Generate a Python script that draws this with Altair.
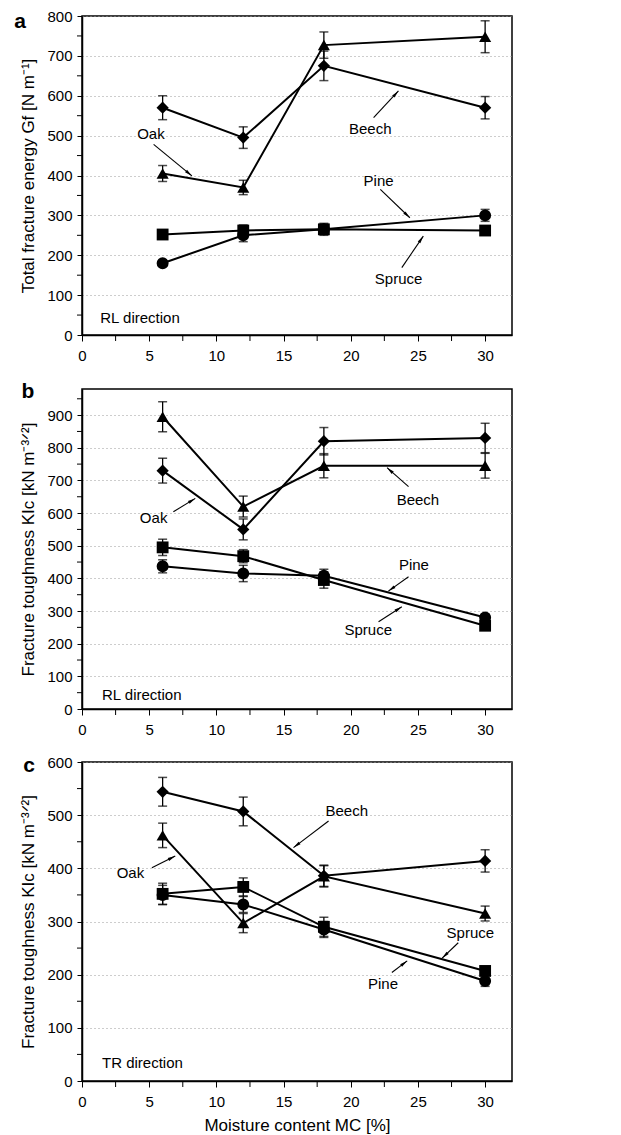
import math
import altair as alt
import pandas as pd

FONT = "Liberation Sans"
X = [6, 12, 18, 30]
SPECIES = ["Beech", "Oak", "Pine", "Spruce"]

# ---- panel a: total fracture energy, RL direction ----
A_VALUES = {"Beech": [570, 495, 675, 570], "Oak": [405, 370, 727, 748],
            "Pine": [180, 250, 265, 300], "Spruce": [252, 262, 265, 262]}
A_ERRORS = {"Beech": [30, 27, 37, 28], "Oak": [20, 18, 33, 40],
            "Pine": [6, 16, 15, 15], "Spruce": [10, 14, 12, 10]}
A_MARKERS = {"Beech": "diamond", "Oak": "triangle-up", "Pine": "circle", "Spruce": "square"}
A_YTICKS = list(range(0, 801, 100))
A_LABELS = ["Oak", "Beech", "Pine", "Spruce"]
A_LABEL_X = [5.13, 21.45, 22.07, 23.56]
A_LABEL_Y = [503, 516, 386, 140]
A_ARROW_X1 = [5.33, 21.7, 22.2, 23.8]
A_ARROW_Y1 = [478, 545, 365, 169]
A_ARROW_X2 = [8.18, 23.55, 24.4, 25.4]
A_ARROW_Y2 = [399, 612, 294, 248]

# ---- panel b: fracture toughness, RL direction ----
B_VALUES = {"Beech": [895, 620, 745, 745], "Oak": [730, 550, 820, 830],
            "Pine": [437, 415, 408, 280], "Spruce": [495, 468, 395, 255]}
B_ERRORS = {"Beech": [46, 32, 37, 38], "Oak": [38, 32, 42, 45],
            "Pine": [20, 25, 20, 10], "Spruce": [25, 20, 25, 12]}
B_MARKERS = {"Beech": "triangle-up", "Oak": "diamond", "Pine": "circle", "Spruce": "square"}
B_YTICKS = list(range(0, 901, 100))
B_LABELS = ["Oak", "Beech", "Pine", "Spruce"]
B_LABEL_X = [5.33, 25.0, 24.7, 21.3]
B_LABEL_Y = [584, 640, 441, 242]
B_ARROW_X1 = [6.8, 24.3, 24.3, 22.07]
B_ARROW_Y1 = [604, 681, 405, 267]
B_ARROW_X2 = [8.43, 22.7, 22.8, 23.8]
B_ARROW_Y2 = [645, 739, 361, 313]

# ---- panel c: fracture toughness, TR direction ----
C_VALUES = {"Beech": [544, 507, 386, 414], "Oak": [462, 297, 385, 315],
            "Pine": [350, 332, 285, 188], "Spruce": [352, 365, 290, 207]}
C_ERRORS = {"Beech": [27, 27, 20, 21], "Oak": [23, 18, 20, 14],
            "Pine": [18, 15, 15, 10], "Spruce": [20, 17, 18, 8]}
C_MARKERS = {"Beech": "diamond", "Oak": "triangle-up", "Pine": "circle", "Spruce": "square"}
C_YTICKS = list(range(0, 601, 100))
C_LABELS = ["Beech", "Oak", "Spruce", "Pine"]
C_LABEL_X = [19.7, 3.6, 28.9, 22.4]
C_LABEL_Y = [508, 392, 279, 182]
C_ARROW_X1 = [18.35, 5.2, 28.0, 23.06]
C_ARROW_Y1 = [489, 401, 260, 204]
C_ARROW_X2 = [15.74, 6.94, 26.8, 24.2]
C_ARROW_Y2 = [439, 423, 231, 226]

X_TICKS = [0, 5, 10, 15, 20, 25, 30]
X_MINOR = [2.5, 7.5, 12.5, 17.5, 22.5, 27.5]
XMAX = 32
W = 430

SHAPES = ["diamond", "triangle-up", "circle", "square"]
SHAPE_SIZES = [150, 140, 85, 70]
ARROW_PATH = "M0,0L0.5,2.4L-0.5,2.4Z"


def panel(values, errors, markers, ymax, yticks, height, ytitle,
          labels, lx, ly, ax1, ay1, ax2, ay2, letter, letter_dx, letter_dy,
          direction, dir_x, dir_y, xtitle):
    rows = []
    for sp in SPECIES:
        for xv, yv, ev in zip(X, values[sp], errors[sp]):
            rows.append({"species": sp, "x": xv, "y": yv, "lo": yv - ev,
                         "hi": yv + ev, "marker": markers[sp]})
    df = pd.DataFrame(rows)

    xs = alt.Scale(domain=[0, XMAX], nice=False, zero=False)
    ys = alt.Scale(domain=[0, ymax], nice=False, zero=False)

    x_axis = alt.Axis(values=X_TICKS, grid=False, tickSize=6, labelPadding=7,
                      labelFlush=False, labelOverlap=False,
                      title=xtitle if xtitle else None, titlePadding=8)
    y_axis = alt.Axis(values=yticks, grid=True, gridDash=[1, 3], gridColor="#9a9a9a",
                      gridWidth=1, tickSize=5, labelPadding=5, labelFlush=False,
                      labelOverlap=False, title=ytitle, titlePadding=9)

    def X_(f):
        return alt.X(f, scale=xs, axis=x_axis)

    def Y_(f):
        return alt.Y(f, scale=ys, axis=y_axis)

    base = alt.Chart(df)
    lines = base.mark_line(color="black", strokeWidth=2).encode(
        x=X_("x:Q"), y=Y_("y:Q"), detail="species:N", order="x:Q")
    bars = base.mark_rule(color="black", strokeWidth=1.3).encode(
        x=X_("x:Q"), y=Y_("lo:Q"), y2="hi:Q")
    cap_lo = base.mark_tick(orient="horizontal", color="black", size=9,
                            thickness=1.5).encode(x=X_("x:Q"), y=Y_("lo:Q"))
    cap_hi = base.mark_tick(orient="horizontal", color="black", size=9,
                            thickness=1.5).encode(x=X_("x:Q"), y=Y_("hi:Q"))
    pts = base.mark_point(filled=True, color="black", opacity=1).encode(
        x=X_("x:Q"), y=Y_("y:Q"),
        shape=alt.Shape("marker:N", scale=None, legend=None),
        size=alt.Size("marker:N", scale=alt.Scale(domain=SHAPES, range=SHAPE_SIZES),
                      legend=None))

    # minor ticks
    yminor = [t + 50 for t in yticks if t + 50 <= ymax]
    ymin_df = pd.DataFrame({"v": yminor})
    ymin_rules = alt.Chart(ymin_df).mark_rule(color="black", strokeWidth=1).encode(
        y=Y_("v:Q"), x=alt.value(-5), x2=alt.value(0))
    xmin_df = pd.DataFrame({"v": X_MINOR})
    xmin_rules = alt.Chart(xmin_df).mark_rule(color="black", strokeWidth=1).encode(
        x=X_("v:Q"), y=alt.value(height), y2=alt.value(height + 6))

    # annotations
    sx = W / XMAX
    sy = height / ymax
    angles = []
    for x1, y1, x2, y2 in zip(ax1, ay1, ax2, ay2):
        dxp = (x2 - x1) * sx
        dyp = -(y2 - y1) * sy
        ang = math.degrees(math.atan2(dxp, -dyp)) % 360
        angles.append(ang)
    ann = pd.DataFrame({"label": labels, "lx": lx, "ly": ly, "x1": ax1, "y1": ay1,
                        "x2": ax2, "y2": ay2, "angle": angles})
    abase = alt.Chart(ann)
    texts = abase.mark_text(font=FONT, fontSize=15, color="black").encode(
        x=X_("lx:Q"), y=Y_("ly:Q"), text="label:N")
    arrows = abase.mark_rule(color="black", strokeWidth=1.1).encode(
        x=X_("x1:Q"), y=Y_("y1:Q"), x2="x2:Q", y2="y2:Q")
    heads = abase.mark_point(shape=ARROW_PATH, filled=True, color="black",
                             opacity=1, size=40).encode(
        x=X_("x2:Q"), y=Y_("y2:Q"), angle=alt.Angle("angle:Q", scale=None))

    dir_df = pd.DataFrame({"t": [direction], "x": [dir_x], "y": [dir_y]})
    dir_text = alt.Chart(dir_df).mark_text(font=FONT, fontSize=15, align="left",
                                           color="black").encode(
        x=X_("x:Q"), y=Y_("y:Q"), text="t:N")

    let_df = pd.DataFrame({"t": [letter]})
    let_text = alt.Chart(let_df).mark_text(font=FONT, fontSize=21, fontWeight="bold",
                                           color="black").encode(
        x=alt.value(letter_dx), y=alt.value(letter_dy), text="t:N")

    return alt.layer(lines, bars, cap_lo, cap_hi, pts, ymin_rules, xmin_rules,
                     arrows, heads, texts, dir_text, let_text).properties(
        width=W, height=height)


pa = panel(A_VALUES, A_ERRORS, A_MARKERS, 800, A_YTICKS, 319,
           "Total fracture energy Gf [N m⁻¹]",
           A_LABELS, A_LABEL_X, A_LABEL_Y, A_ARROW_X1, A_ARROW_Y1, A_ARROW_X2, A_ARROW_Y2,
           "a", -62, 6, "RL direction", 1.36, 43, None)
pb = panel(B_VALUES, B_ERRORS, B_MARKERS, 980, B_YTICKS, 320,
           "Fracture toughness KIc [kN m⁻³ᐟ²]",
           B_LABELS, B_LABEL_X, B_LABEL_Y, B_ARROW_X1, B_ARROW_Y1, B_ARROW_X2, B_ARROW_Y2,
           "b", -54, 3, "RL direction", 1.49, 43, None)
pc = panel(C_VALUES, C_ERRORS, C_MARKERS, 600, C_YTICKS, 319,
           "Fracture toughness KIc [kN m⁻³ᐟ²]",
           C_LABELS, C_LABEL_X, C_LABEL_Y, C_ARROW_X1, C_ARROW_Y1, C_ARROW_X2, C_ARROW_Y2,
           "c", -53, 4, "TR direction", 1.49, 34, "Moisture content MC [%]")

chart = alt.vconcat(pa, pb, pc, spacing=16).configure_view(
    stroke="black", strokeWidth=1.5
).configure_axis(
    labelFont=FONT, titleFont=FONT, labelFontSize=15, titleFontSize=17,
    labelColor="black", titleColor="black", domainColor="black", tickColor="black",
    domainWidth=1.5, tickWidth=1, titleFontWeight="normal"
).properties(background="white", padding={"left": 5, "top": 0, "right": 5, "bottom": 5})

chart.save("out.html", embed_options={"renderer": "svg", "actions": False})
